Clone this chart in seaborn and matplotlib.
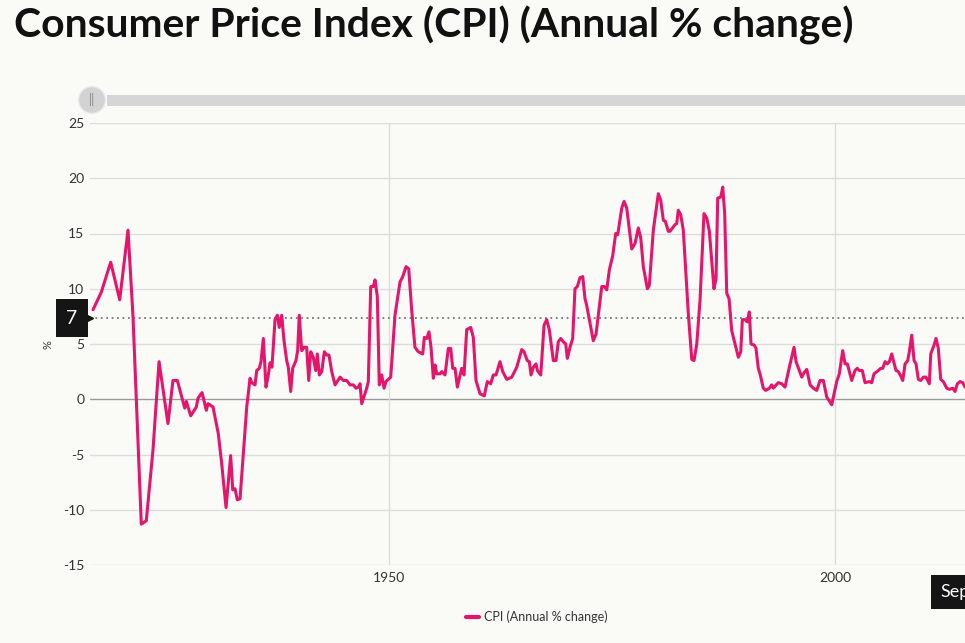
import matplotlib as mat
import matplotlib.pyplot as plt
import matplotlib.patches as patches
import seaborn as sns
import pandas as pd

# CPI (Annual % change)
years = [1916.82, 1917.75, 1918.80, 1919.81, 1920.74, 1921.30, 1922.23, 1922.79, 1923.54, 1924.22,
         1925.22, 1925.78, 1926.27, 1927.10, 1927.28, 1927.77, 1928.40, 1928.59, 1929.04, 1929.52,
         1929.71, 1930.27, 1930.86, 1931.24, 1931.73, 1932.25, 1932.48, 1932.74, 1932.99, 1933.30,
         1933.67, 1934.05, 1934.42, 1934.61, 1934.98, 1935.17, 1935.46, 1935.65, 1935.91, 1936.21,
         1936.47, 1936.66, 1936.88, 1937.22, 1937.48, 1937.70, 1937.97, 1938.23, 1938.53, 1938.71,
         1938.98, 1939.20, 1939.57, 1939.76, 1939.94, 1940.21, 1940.47, 1940.77, 1941.00, 1941.22,
         1941.51, 1941.78, 1941.96, 1942.19, 1942.46, 1942.75, 1943.02, 1943.27, 1943.58, 1943.95,
         1944.51, 1944.88, 1945.26, 1945.63, 1946.00, 1946.30, 1946.56, 1946.75, 1946.94, 1947.50,
         1947.68, 1947.95, 1948.24, 1948.43, 1948.69, 1948.91, 1949.18, 1949.44, 1949.66, 1950.19,
         1950.67, 1951.23, 1951.54, 1951.91, 1952.21, 1952.54, 1952.91, 1953.28, 1953.78, 1953.96,
         1954.23, 1954.48, 1954.71, 1954.97, 1955.16, 1955.35, 1955.72, 1955.91, 1956.28, 1956.65,
         1956.92, 1957.14, 1957.40, 1957.66, 1958.15, 1958.41, 1958.71, 1959.16, 1959.45, 1959.75,
         1960.20, 1960.68, 1961.02, 1961.40, 1961.69, 1962.00, 1962.44, 1962.75, 1963.20, 1963.76,
         1964.32, 1964.88, 1965.13, 1965.50, 1965.73, 1965.92, 1966.18, 1966.48, 1966.63, 1967.01,
         1967.38, 1967.68, 1967.97, 1968.42, 1968.72, 1968.98, 1969.25, 1969.54, 1969.81, 1969.99,
         1970.29, 1970.59, 1970.85, 1971.11, 1971.41, 1971.72, 1971.97, 1972.16, 1972.90, 1973.21,
         1973.85, 1974.14, 1974.41, 1974.70, 1975.08, 1975.41, 1975.64, 1976.09, 1976.35, 1976.65,
         1977.21, 1977.58, 1977.95, 1978.22, 1978.51, 1978.96, 1979.18, 1979.63, 1980.19, 1980.46,
         1980.75, 1980.98, 1981.31, 1981.50, 1982.06, 1982.25, 1982.43, 1982.70, 1982.99, 1983.55,
         1983.94, 1984.19, 1984.50, 1984.87, 1985.31, 1985.62, 1985.91, 1986.43, 1986.66, 1986.85,
         1987.19, 1987.41, 1987.63, 1987.86, 1988.12, 1988.42, 1989.16, 1989.43, 1989.61, 1989.91,
         1990.17, 1990.39, 1990.58, 1990.95, 1991.14, 1991.40, 1991.59, 1991.96, 1992.23, 1992.64,
         1992.90, 1993.08, 1993.64, 1994.02, 1994.39, 1994.88, 1995.40, 1995.63, 1996.27, 1996.52,
         1996.83, 1997.20, 1997.57, 1997.95, 1998.32, 1998.69, 1999.07, 1999.63, 2000.19, 2000.48,
         2000.86, 2001.12, 2001.38, 2001.87, 2002.24, 2002.50, 2002.72, 2003.06, 2003.36, 2003.85,
         2004.11, 2004.37, 2004.85, 2005.12, 2005.35, 2005.61, 2005.86, 2006.09, 2006.36, 2006.54,
         2006.84, 2007.10, 2007.37, 2007.59, 2007.85, 2008.15, 2008.33, 2008.60, 2008.86, 2009.08,
         2009.34, 2009.61, 2009.90, 2010.20, 2010.57, 2010.73, 2011.10, 2011.32, 2011.58, 2011.85,
         2012.14, 2012.52, 2012.81, 2013.20, 2013.45, 2013.71, 2014.01, 2014.32, 2014.57]
cpi = [8.1, 9.7, 12.4, 9.0, 15.3, 7.5, -11.3, -11.0, -4.6, 3.4,
       -2.2, 1.7, 1.7, -0.8, -0.2, -1.5, -0.7, 0.1, 0.6, -1.0,
       -0.4, -0.7, -3.1, -5.8, -9.8, -5.1, -8.2, -8.1, -9.1, -9.0,
       -4.9, -0.7, 1.9, 1.5, 1.3, 2.6, 2.8, 3.4, 5.5, 1.1,
       2.2, 3.3, 2.9, 7.2, 7.6, 6.5, 7.6, 5.3, 3.5, 2.9,
       0.7, 2.8, 3.5, 4.4, 7.6, 4.4, 4.7, 4.7, 1.7, 4.3,
       3.8, 2.6, 4.1, 2.2, 2.5, 4.3, 4.0, 4.0, 2.5, 1.3,
       2.0, 1.7, 1.7, 1.3, 1.3, 1.0, 1.1, 1.4, -0.4, 1.0,
       1.6, 10.2, 10.2, 10.8, 9.3, 1.3, 2.2, 1.0, 1.6, 2.0,
       7.6, 10.6, 11.1, 12.0, 11.8, 8.1, 4.7, 4.3, 4.1, 5.6,
       5.5, 6.1, 4.7, 1.9, 3.1, 2.3, 2.3, 2.5, 2.2, 4.6,
       4.6, 2.8, 2.8, 1.1, 2.8, 2.2, 6.3, 6.5, 5.6, 1.7,
       0.5, 0.3, 1.6, 1.4, 2.2, 2.2, 3.4, 2.5, 1.8, 2.0,
       2.9, 4.5, 4.3, 3.5, 3.4, 2.2, 2.9, 3.2, 2.6, 2.2,
       6.7, 7.2, 6.3, 3.5, 3.5, 5.2, 5.5, 5.2, 5.0, 3.7,
       4.7, 5.5, 10.0, 10.2, 11.0, 11.1, 9.1, 8.5, 5.3, 5.9,
       10.2, 10.2, 9.9, 11.7, 13.0, 15.0, 14.9, 17.3, 17.9, 17.3,
       13.6, 14.1, 15.5, 14.6, 12.0, 10.0, 10.3, 15.3, 18.6, 18.0,
       16.2, 16.1, 15.2, 15.2, 15.8, 15.9, 17.1, 16.7, 15.3, 7.8,
       3.6, 3.5, 5.0, 9.0, 16.8, 16.4, 15.2, 10.0, 10.9, 18.2,
       18.3, 19.2, 16.8, 9.6, 9.1, 6.2, 3.8, 4.3, 7.2, 7.2,
       7.0, 7.9, 5.0, 4.9, 4.6, 2.8, 2.3, 1.0, 0.8, 1.0,
       1.3, 1.0, 1.5, 1.4, 1.1, 2.9, 4.7, 3.4, 2.0, 2.4,
       2.7, 1.3, 1.0, 0.8, 1.7, 1.7, 0.2, -0.5, 1.6, 2.3,
       4.4, 3.2, 3.2, 1.7, 2.6, 2.8, 2.6, 2.6, 1.5, 1.6,
       1.5, 2.3, 2.6, 2.8, 2.8, 3.4, 3.2, 3.4, 4.1, 3.5,
       2.6, 2.5, 2.1, 1.7, 3.2, 3.5, 4.3, 5.8, 3.5, 3.2,
       1.8, 1.7, 2.0, 2.0, 1.4, 4.1, 4.9, 5.5, 4.6, 1.8,
       1.6, 1.0, 0.9, 1.0, 0.7, 1.4, 1.6, 1.5, 1.1]

series_name = 'CPI (Annual % change)'
y_ticks = [-15, -10, -5, 0, 5, 10, 15, 20, 25]
x_ticks = [1950, 2000]
crosshair_value = 7.34
crosshair_label = '7'

W, H = 965, 643
bg = '#FAFAF7'
pink = '#E5156B'

sns.set_theme(style='white')
plt.rcParams['font.family'] = ['Lato', 'DejaVu Sans']
plt.rcParams['axes.unicode_minus'] = False

df = pd.DataFrame({'year': years, 'cpi': cpi})

fig = plt.figure(figsize=(W / 100, H / 100), dpi=100, facecolor=bg)
ax = fig.add_axes([90 / W, 1 - 565 / H, 1 - 90 / W, (565 - 123) / H])
ax.set_facecolor(bg)

# grid
for v in y_ticks:
    ax.axhline(v, color='#9a9a9a' if v == 0 else '#dcdcdc', lw=1.0, zorder=0)
for v in x_ticks:
    ax.axvline(v, color='#dcdcdc', lw=1.0, zorder=0)

sns.lineplot(data=df, x='year', y='cpi', ax=ax, color=pink, lw=2.2,
             estimator=None, sort=False, label=series_name)

ax.set_xlim(1916.48, 2014.57)
ax.set_ylim(-15, 25)
ax.set_yticks(y_ticks)
ax.set_xticks(x_ticks)
ax.tick_params(axis='y', length=0, pad=4, labelsize=10, labelcolor='#333333')
ax.tick_params(axis='x', length=0, pad=5, labelsize=10, labelcolor='#333333')
for s in ax.spines.values():
    s.set_visible(False)
ax.set_xlabel('')
ax.set_ylabel('')

# crosshair
ax.axhline(crosshair_value, color='#777777', lw=1.3, ls=(0, (1, 2)), zorder=1)
ax.plot([0], [crosshair_value], transform=ax.get_yaxis_transform(), marker='>',
        color='#151515', ms=5, clip_on=False)
fig.text(72 / W, 1 - 318 / H, crosshair_label, color='white', fontsize=14,
         ha='center', va='center',
         bbox=dict(boxstyle='square,pad=0.55', fc='#151515', ec='none'))
fig.text(940 / W, 1 - 592 / H, 'Sep', color='white', fontsize=13, ha='left', va='center',
         bbox=dict(boxstyle='square,pad=0.5', fc='#151515', ec='none'))

fig.text(48 / W, 1 - 345 / H, '%', rotation=90, fontsize=8, color='#333333',
         ha='center', va='center')

# slider
fig.add_artist(patches.Rectangle((107 / W, 1 - 106 / H), 1, 11 / H,
                                 transform=fig.transFigure, fc='#d6d6d6', ec='none'))
fig.add_artist(patches.Ellipse((92 / W, 1 - 100 / H), 27 / W, 27 / H,
                               transform=fig.transFigure, fc='#d3d3d3', ec='#ececec', lw=1))
fig.text(92 / W, 1 - 100 / H, '||', ha='center', va='center', fontsize=9, color='#8a8a8a')

fig.text(14 / W, 1 - 25 / H, 'Consumer Price Index (CPI) (Annual % change)',
         fontsize=29.4, weight='bold', color='#111111', ha='left', va='center')

leg = ax.legend(loc='center', bbox_to_anchor=(537 / W, 1 - 617 / H),
                bbox_transform=fig.transFigure, frameon=False, fontsize=9,
                handlelength=1.0, handletextpad=0.4)
for t in leg.get_texts():
    t.set_color('#333333')
for h in leg.get_lines():
    h.set_linewidth(3)

fig.savefig('out.png', dpi=100, facecolor=bg)
